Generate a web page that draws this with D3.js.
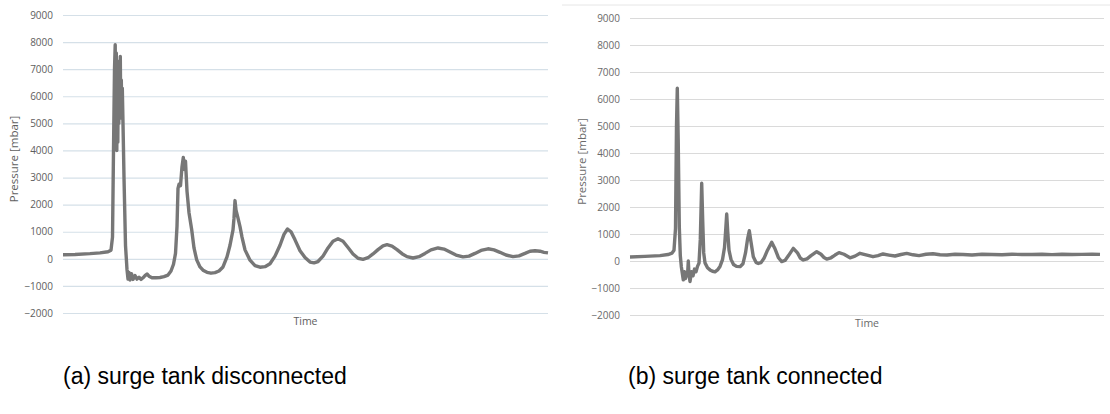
<!DOCTYPE html>
<html>
<head>
<meta charset="utf-8">
<script src="https://cdn.jsdelivr.net/npm/d3@7"></script>
<style>
  body { margin: 0; background: #fff; }
  svg { display: block; }
  .tick text { font-family: "Open Sans", sans-serif; }
</style>
</head>
<body>
<div id="chart"></div>
<script>
// Pressure readings, time given in arbitrary sample units (no scale on the axis)
const timeA = [0, 12, 27, 37, 45, 48, 49.5, 50.5, 51.5, 52.2, 52.8, 53.3, 53.8, 54.3, 54.8, 55.3, 55.8, 56.3, 56.8,
  57.3, 57.8, 58.3, 58.8, 59.3, 60,
  61, 62.5, 64, 65, 66, 67, 68.5, 70, 72, 74, 76, 78, 80, 82, 84, 86, 89, 93, 97, 101, 105, 108, 110.5, 112.5,
  114, 115, 116, 117.5, 119, 120.3, 121.5, 122.5, 124, 126, 128.7, 131, 133.7, 137, 140, 144, 148, 152, 156, 160,
  164, 167, 170, 171, 172, 173, 175, 177, 179, 182, 187, 192, 197, 202, 207, 212, 217, 221, 224.5, 228, 232, 237,
  242, 247, 251, 255, 260, 265, 270, 275, 280, 285, 290, 295, 300, 305, 310, 315, 320, 324, 329, 334, 339, 344,
  350, 356, 362, 368, 375, 381, 387, 393, 400, 406, 412, 418, 425, 431, 437, 443, 450, 456, 462, 467, 472, 477,
  481, 485];
const pressureA = [150, 160, 190, 220, 260, 320, 800, 4000, 7000, 7900, 5200, 7600, 4000, 7000, 4300, 6800, 5000,
  7300, 5600, 7470, 5200, 6600, 5400, 6300, 5000, 3000, 500, -400, -750, -500, -780, -550, -760, -620, -750, -680, -760, -700, -620, -560, -640,
  -700, -700, -690, -660, -600, -450, -200, 200, 1200, 2600, 2750, 2700, 3400, 3740, 3300, 3600, 2500, 1700, 1070,
  400, -40, -300, -420, -500, -530, -510, -450, -300, 70, 500, 1070, 1500, 2150, 1800, 1500, 1190, 800, 330, -50,
  -250, -310, -290, -180, 100, 500, 900, 1100, 1000, 700, 300, 50, -120, -150, -100, 100, 400, 650, 740, 650, 420,
  180, 20, -20, 40, 180, 340, 480, 520, 470, 340, 190, 80, 30, 80, 200, 330, 400, 360, 250, 140, 70, 100, 200, 310,
  370, 330, 240, 140, 80, 110, 200, 280, 300, 280, 240, 220];

const timeB = [0, 15, 30, 38, 42, 44, 45.5, 46.5, 47.3, 48.2, 49.3, 50.3, 51.3, 52.3, 53.3, 54.5, 55.5, 56.5, 57.5,
  58.3, 59, 60, 61.5, 63, 64.5, 66, 67.5, 69, 70.3, 71.7, 72.7, 73.7, 75, 77.5, 80, 82.5, 85, 87.5, 90, 92.5, 94.5,
  95.8, 96.7, 97.7, 99, 101, 103.5, 106.5, 110, 113, 115.5, 117.5, 119.3, 121, 123.3, 126, 128.3, 131, 134, 137.5,
  141.7, 145, 148.5, 151.7, 155, 158.5, 163.3, 167.5, 170.5, 173.3, 177, 181, 186.7, 191, 194, 196.7, 201, 205,
  209, 214, 220, 225, 230, 236, 243, 248, 253, 259, 265, 271, 276.7, 283, 289, 296, 303, 310, 317, 325, 333, 342,
  352, 362, 372, 382, 392, 402, 412, 422, 432, 442, 452, 462, 470];
const pressureB = [150, 170, 200, 240, 290, 400, 1200, 5000, 6400, 4500, 1270, 200, -200, -450, -700, -400, -650,
  -450, -550, 0, -500, -760, -400, -550, -300, -400, -200, -80, 800, 2880, 1500, 300, -70, -250, -330, -380, -400,
  -330, -200, 50, 500, 1200, 1740, 1100, 400, 60, -130, -200, -210, -100, 300, 800, 1120, 700, 160, -50, -90, -60,
  100, 400, 690, 450, 120, -20, 20, 200, 470, 300, 100, 40, 80, 200, 345, 250, 130, 70, 120, 220, 310, 250, 120,
  180, 285, 230, 160, 200, 260, 220, 185, 240, 280, 230, 200, 250, 270, 230, 220, 250, 240, 220, 250, 240, 230,
  250, 240, 240, 250, 235, 250, 240, 245, 250, 245];

const yTicks = [-2000, -1000, 0, 1000, 2000, 3000, 4000, 5000, 6000, 7000, 8000, 9000];
const captions = ["(a) surge tank disconnected", "(b) surge tank connected"];

const width = 1110, height = 414;

const svg = d3.select("#chart")
  .append("svg")
  .attr("width", width)
  .attr("height", height);

// faint frame line on top of the second screenshot
svg.append("line")
  .attr("x1", 562).attr("x2", 1110)
  .attr("y1", 5).attr("y2", 5)
  .attr("stroke", "#e6e6e6");

function drawPanel(opts) {
  const g = svg.append("g");

  let x = d3.scaleLinear()
    .domain(opts.xDomain)
    .range([opts.left, opts.right]);

  let y = d3.scaleLinear()
    .domain([-2000, 9000])
    .range([opts.bottom, opts.top]);

  // gridlines + labels from the axis
  g.append("g")
    .attr("transform", `translate(${opts.left},0)`)
    .call(d3.axisLeft(y).tickValues(yTicks).tickSize(-(opts.right - opts.left)).tickPadding(10).tickFormat(d3.format("d")))
    .call(a => a.select(".domain").remove())
    .call(a => a.selectAll(".tick line").attr("stroke", opts.grid).attr("stroke-width", 1.2))
    .call(a => a.selectAll(".tick text").attr("fill", opts.tickColor).attr("font-size", 10));

  // y label
  g.append("text")
    .attr("transform", `translate(${opts.ylabelX},${(opts.top + opts.bottom) / 2 - 5}) rotate(-90)`)
    .attr("text-anchor", "middle")
    .attr("dominant-baseline", "middle")
    .attr("font-family", "Open Sans, sans-serif")
    .attr("font-size", 11.5)
    .attr("fill", opts.tickColor)
    .text("Pressure [mbar]");

  // x label
  g.append("text")
    .attr("x", (opts.left + opts.right) / 2)
    .attr("y", opts.bottom + 12)
    .attr("text-anchor", "middle")
    .attr("font-family", "Open Sans, sans-serif")
    .attr("font-size", 10.5)
    .attr("fill", opts.tickColor)
    .text("Time");

  let line = d3.line()
    .x((d, i) => x(opts.time[i]))
    .y(d => y(d));

  g.append("path")
    .datum(opts.values)
    .attr("d", line)
    .attr("fill", "none")
    .attr("stroke", "#777")
    .attr("stroke-width", 3.4)
    .attr("stroke-linejoin", "round");

  // caption under the panel
  svg.append("text")
    .attr("x", opts.captionX)
    .attr("y", 384)
    .attr("font-family", "Liberation Sans, Arial, sans-serif")
    .attr("font-size", 23)
    .attr("fill", "#000")
    .text(opts.caption);
}

drawPanel({
  time: timeA, values: pressureA, xDomain: [0, 485],
  left: 63, right: 548, top: 15, bottom: 313,
  grid: "#d5e0e8", tickColor: "#5e5e5e", ylabelX: 15,
  caption: captions[0], captionX: 63
});

drawPanel({
  time: timeB, values: pressureB, xDomain: [0, 474],
  left: 630, right: 1104, top: 18, bottom: 315,
  grid: "#dadada", tickColor: "#6a6a6a", ylabelX: 583,
  caption: captions[1], captionX: 628
});
</script>
</body>
</html>
